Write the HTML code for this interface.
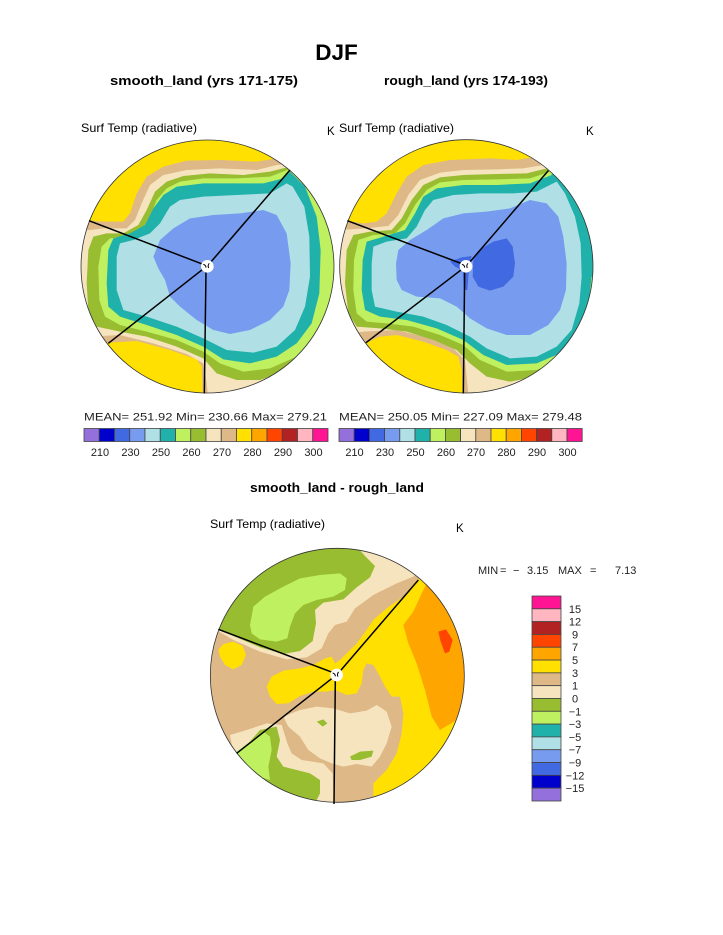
<!DOCTYPE html>
<html><head><meta charset="utf-8"><style>
html,body{margin:0;padding:0;background:#fff;}
svg{display:block;}
text{font-family:"Liberation Sans",sans-serif;}
</style></head><body>
<svg width="723" height="935" viewBox="0 0 723 935" xmlns="http://www.w3.org/2000/svg">
<defs>
<clipPath id="c1"><circle cx="412.5" cy="349.5" r="379.5"/></clipPath>
<clipPath id="c2"><circle cx="409" cy="349" r="380"/></clipPath>
<clipPath id="c3"><circle cx="412" cy="406" r="381"/></clipPath>
</defs>
<rect width="723" height="935" fill="#fff"/>

<!-- Titles -->
<text x="336.5" y="60" font-size="22.5" font-weight="bold" text-anchor="middle" fill="#000">DJF</text>
<text x="110" y="85" font-size="13" font-weight="bold" textLength="188" lengthAdjust="spacingAndGlyphs" fill="#000">smooth_land (yrs 171-175)</text>
<text x="384" y="85" font-size="13" font-weight="bold" textLength="164" lengthAdjust="spacingAndGlyphs" fill="#000">rough_land (yrs 174-193)</text>
<text x="81" y="132" font-size="12" textLength="116" lengthAdjust="spacingAndGlyphs" fill="#000">Surf Temp (radiative)</text>
<text x="327" y="135" font-size="11.5" fill="#000">K</text>
<text x="339" y="132" font-size="12" textLength="115" lengthAdjust="spacingAndGlyphs" fill="#000">Surf Temp (radiative)</text>
<text x="586" y="135" font-size="11.5" fill="#000">K</text>

<!-- LEFT CIRCLE -->
<g transform="translate(70,150) scale(0.333333)">
<g clip-path="url(#c1)">
<circle cx="412.5" cy="349.5" r="379.5" fill="#FFE000"/>
<polygon fill="#DEB887" points="630,-60 620,25 560,35 450,30 350,32 280,50 230,80 200,130 180,190 160,215 100,215 57,212 -20,212 -20,578 115,578 200,573 300,600 380,628 395,650 400,800 900,800 900,-60"/>
<polygon fill="#F5E4BE" points="660,-60 660,40 620,45 560,60 450,55 350,60 280,75 240,105 215,160 195,210 170,235 100,235 60,240 -20,240 -20,560 60,560 150,555 250,580 350,612 400,640 410,700 420,800 900,800 900,-60"/>
<polygon fill="#98BD30" points="680,-60 660,50 600,65 520,75 420,70 340,78 290,95 255,125 230,180 205,225 160,250 110,250 70,260 55,300 50,400 55,480 80,530 150,545 230,560 320,590 400,625 440,670 500,690 570,690 640,665 700,625 760,580 900,500 900,-60"/>
<polygon fill="#BFF060" points="700,-60 665,55 600,80 500,85 400,85 330,95 290,115 260,150 240,200 215,240 170,260 120,265 95,290 85,350 88,450 105,500 150,525 230,545 320,570 400,605 450,640 520,665 600,655 680,620 740,560 775,480 800,420 900,300 900,-60"/>
<polygon fill="#20B2AA" points="660,65 640,85 580,100 500,100 400,100 320,110 280,135 250,175 225,225 180,250 130,265 115,300 110,400 115,470 150,500 230,525 320,555 400,590 460,628 540,640 620,620 680,580 725,520 748,430 752,300 740,200 705,110"/>
<polygon fill="#B0E0E6" points="650,100 600,130 500,135 400,140 330,150 300,170 270,220 240,250 190,270 150,280 140,320 140,420 160,480 230,500 320,530 400,565 470,600 550,608 620,590 675,540 705,470 720,380 718,260 703,170 668,110"/>
<polygon fill="#779CEF" points="250,320 270,270 310,235 360,205 430,195 510,190 580,180 620,195 650,250 662,340 658,420 640,470 600,510 540,540 480,552 430,540 380,510 330,470 300,440 285,390 265,355"/>
</g>
<circle cx="412.5" cy="349.5" r="379.5" fill="none" stroke="#333" stroke-width="2.4"/>
<g stroke="#000" stroke-width="4.5" fill="none">
<line x1="57" y1="212" x2="402" y2="344"/>
<line x1="660" y1="60" x2="420" y2="339"/>
<line x1="115" y1="580" x2="402" y2="355"/>
<line x1="403" y1="730" x2="408" y2="362"/>
</g>
<circle cx="412" cy="349" r="19" fill="#fff"/>
<path d="M400,343 q8,2 8,10 M418,340 q-6,6 -2,14" stroke="#000" stroke-width="3" fill="none"/>
</g>

<!-- RIGHT CIRCLE -->
<g transform="translate(330,150) scale(0.333333)">
<g clip-path="url(#c2)">
<circle cx="409" cy="349" r="380" fill="#FFE000"/>
<polygon fill="#DEB887" points="630,-60 620,20 560,30 480,25 360,30 280,45 230,80 200,130 170,190 140,215 100,220 55,213 -20,212 -20,578 110,578 150,560 200,555 280,575 350,600 385,620 395,660 400,800 900,800 900,-60"/>
<polygon fill="#F5E4BE" points="650,-60 640,45 580,55 500,58 400,60 330,68 270,90 235,135 205,195 175,228 110,235 60,238 -20,240 -20,560 100,545 200,540 290,562 370,595 405,630 412,700 420,800 900,800 900,-60"/>
<polygon fill="#98BD30" points="660,-60 650,55 590,70 500,72 400,75 330,82 280,105 245,150 215,205 185,240 120,245 70,255 50,300 45,400 55,490 80,530 150,535 230,545 310,570 380,600 420,640 470,680 540,695 620,680 700,640 760,600 900,600 900,-60"/>
<polygon fill="#BFF060" points="670,-60 660,65 600,85 500,88 400,90 330,97 290,120 255,165 225,220 195,250 130,255 85,270 72,330 70,420 80,490 110,515 170,520 250,530 330,555 400,585 450,630 530,665 620,660 700,625 760,570 790,500 900,450 900,-60"/>
<polygon fill="#20B2AA" points="680,-60 665,75 600,100 500,105 400,105 320,115 280,140 255,190 225,240 160,260 110,275 98,330 95,420 105,480 150,500 230,510 320,535 400,570 460,615 530,645 620,640 690,610 745,550 775,470 785,380 900,380 900,-60"/>
<polygon fill="#B0E0E6" points="680,95 620,125 550,130 450,130 370,135 310,150 285,180 260,230 230,265 170,275 130,290 125,340 125,420 135,470 200,485 280,500 350,525 420,560 470,595 540,625 620,620 680,590 725,540 748,460 755,380 752,280 735,200 705,130"/>
<polygon fill="#779CEF" points="198,340 205,300 240,270 290,240 340,205 400,190 470,185 540,175 600,150 650,160 685,200 700,260 710,340 708,420 690,480 655,525 600,555 530,555 470,535 420,505 380,470 330,445 260,440 215,420 200,390"/>
<polygon fill="#4169E1" points="430,330 450,298 490,275 530,265 548,290 555,340 550,380 520,410 480,422 445,410 428,380"/>
<polygon fill="#4169E1" points="360,335 395,322 425,318 418,345 412,420 402,420 398,362 375,350"/>
</g>
<circle cx="409" cy="349" r="380" fill="none" stroke="#333" stroke-width="2.4"/>
<g stroke="#000" stroke-width="4.5" fill="none">
<line x1="52" y1="212" x2="398" y2="342"/>
<line x1="655" y1="62" x2="418" y2="338"/>
<line x1="108" y1="578" x2="398" y2="356"/>
<line x1="400" y1="730" x2="404" y2="362"/>
</g>
<circle cx="408" cy="349" r="19" fill="#fff"/>
<path d="M396,343 q8,2 8,10 M414,340 q-6,6 -2,14" stroke="#000" stroke-width="3" fill="none"/>
</g>

<!-- Top colorbars -->
<text x="84" y="420.5" font-size="11" fill="#222" textLength="243" lengthAdjust="spacingAndGlyphs">MEAN= 251.92  Min= 230.66  Max= 279.21</text>
<text x="339" y="420.5" font-size="11" fill="#222" textLength="243" lengthAdjust="spacingAndGlyphs">MEAN= 250.05  Min= 227.09  Max= 279.48</text>
<g stroke="#444" stroke-width="0.8">
<rect x="84" y="428.5" width="15.25" height="13" fill="#9370DB"/>
<rect x="99.25" y="428.5" width="15.25" height="13" fill="#0000CD"/>
<rect x="114.5" y="428.5" width="15.25" height="13" fill="#4169E1"/>
<rect x="129.75" y="428.5" width="15.25" height="13" fill="#779CEF"/>
<rect x="145" y="428.5" width="15.25" height="13" fill="#B0E0E6"/>
<rect x="160.25" y="428.5" width="15.25" height="13" fill="#20B2AA"/>
<rect x="175.5" y="428.5" width="15.25" height="13" fill="#BFF060"/>
<rect x="190.75" y="428.5" width="15.25" height="13" fill="#98BD30"/>
<rect x="206" y="428.5" width="15.25" height="13" fill="#F5E4BE"/>
<rect x="221.25" y="428.5" width="15.25" height="13" fill="#DEB887"/>
<rect x="236.5" y="428.5" width="15.25" height="13" fill="#FFE000"/>
<rect x="251.75" y="428.5" width="15.25" height="13" fill="#FFA500"/>
<rect x="267" y="428.5" width="15.25" height="13" fill="#FF4500"/>
<rect x="282.25" y="428.5" width="15.25" height="13" fill="#B22222"/>
<rect x="297.5" y="428.5" width="15.25" height="13" fill="#FFB6C1"/>
<rect x="312.75" y="428.5" width="15.25" height="13" fill="#FF1493"/>

<rect x="339" y="428.5" width="15.2" height="13" fill="#9370DB"/>
<rect x="354.2" y="428.5" width="15.2" height="13" fill="#0000CD"/>
<rect x="369.4" y="428.5" width="15.2" height="13" fill="#4169E1"/>
<rect x="384.6" y="428.5" width="15.2" height="13" fill="#779CEF"/>
<rect x="399.8" y="428.5" width="15.2" height="13" fill="#B0E0E6"/>
<rect x="415" y="428.5" width="15.2" height="13" fill="#20B2AA"/>
<rect x="430.2" y="428.5" width="15.2" height="13" fill="#BFF060"/>
<rect x="445.4" y="428.5" width="15.2" height="13" fill="#98BD30"/>
<rect x="460.6" y="428.5" width="15.2" height="13" fill="#F5E4BE"/>
<rect x="475.8" y="428.5" width="15.2" height="13" fill="#DEB887"/>
<rect x="491" y="428.5" width="15.2" height="13" fill="#FFE000"/>
<rect x="506.2" y="428.5" width="15.2" height="13" fill="#FFA500"/>
<rect x="521.4" y="428.5" width="15.2" height="13" fill="#FF4500"/>
<rect x="536.6" y="428.5" width="15.2" height="13" fill="#B22222"/>
<rect x="551.8" y="428.5" width="15.2" height="13" fill="#FFB6C1"/>
<rect x="567" y="428.5" width="15.2" height="13" fill="#FF1493"/>
</g>
<g font-size="11" fill="#222" text-anchor="middle">
<text x="100" y="456">210</text>
<text x="130.5" y="456">230</text>
<text x="161" y="456">250</text>
<text x="191.5" y="456">260</text>
<text x="222" y="456">270</text>
<text x="252.5" y="456">280</text>
<text x="283" y="456">290</text>
<text x="313.5" y="456">300</text>
<text x="354.5" y="456">210</text>
<text x="385" y="456">230</text>
<text x="415.5" y="456">250</text>
<text x="446" y="456">260</text>
<text x="476" y="456">270</text>
<text x="506.5" y="456">280</text>
<text x="537" y="456">290</text>
<text x="567.5" y="456">300</text>
</g>

<!-- Bottom panel titles -->
<text x="250" y="492" font-size="13" font-weight="bold" textLength="174" lengthAdjust="spacingAndGlyphs" fill="#000">smooth_land - rough_land</text>
<text x="210" y="528" font-size="12" textLength="115" lengthAdjust="spacingAndGlyphs" fill="#000">Surf Temp (radiative)</text>
<text x="456" y="532" font-size="11.5" fill="#000">K</text>

<!-- BOTTOM CIRCLE -->
<g transform="translate(200,540) scale(0.333333)">
<g clip-path="url(#c3)">
<circle cx="412" cy="406" r="381" fill="#DEB887"/>
<polygon fill="#F5E4BE" points="-20,250 40,265 100,300 180,335 260,358 320,352 365,325 385,280 405,255 440,245 465,205 520,165 590,130 640,110 700,60 700,-20 -20,-20"/>
<polygon fill="#98BD30" points="-20,255 55,268 110,292 180,322 250,342 300,333 338,303 348,250 345,210 370,188 430,178 470,142 510,112 525,78 495,48 470,20 400,-20 -20,-20"/>
<polygon fill="#BFF060" points="150,255 160,200 195,170 250,140 300,115 360,105 420,100 440,115 435,150 400,170 350,180 310,195 285,220 270,260 262,295 230,305 180,298 155,280"/>
<polygon fill="#FFE000" points="55,330 70,312 100,305 128,318 138,345 125,375 100,388 75,375 60,350"/>
<polygon fill="#FFE000" points="200,440 215,410 250,392 300,385 340,375 375,355 395,350 405,370 420,360 440,340 470,310 500,270 520,240 560,205 610,170 650,120 700,100 820,300 820,820 520,820 520,730 560,690 590,640 605,580 610,520 600,470 575,470 555,440 540,410 520,375 500,370 490,390 485,430 470,460 440,465 405,450 380,455 340,455 300,468 265,490 230,492 210,470"/>
<polygon fill="#FFA500" points="610,255 640,215 665,160 680,130 720,150 820,300 820,500 770,540 720,570 695,530 675,450 650,370 625,310"/>
<polygon fill="#FF4500" points="715,275 738,268 758,300 748,335 735,340 722,305"/>
<polygon fill="#F5E4BE" points="250,530 300,510 350,500 400,505 450,520 500,512 530,495 560,515 575,560 560,610 540,650 515,680 470,672 430,680 395,670 360,655 325,630 300,590 265,560"/>
<polygon fill="#F5E4BE" points="90,585 140,570 200,550 245,555 262,610 275,640 305,660 370,670 398,700 402,800 330,800 250,770 150,720 100,640"/>
<polygon fill="#98BD30" points="180,570 230,560 240,600 230,650 250,680 330,700 360,720 360,760 345,790 240,760 160,710 110,650"/>
<polygon fill="#BFF060" points="110,635 190,575 210,590 215,630 205,680 210,720 160,705 130,670"/>
<polygon fill="#98BD30" points="350,545 370,538 382,550 368,560"/>
<polygon fill="#98BD30" points="450,650 480,635 520,632 515,650 480,660 455,660"/>
</g>
<circle cx="412" cy="406" r="381" fill="none" stroke="#333" stroke-width="2.4"/>
<g stroke="#000" stroke-width="4.5" fill="none">
<line x1="55" y1="268" x2="400" y2="398"/>
<line x1="655" y1="120" x2="418" y2="396"/>
<line x1="110" y1="640" x2="400" y2="412"/>
<line x1="402" y1="792" x2="406" y2="418"/>
</g>
<circle cx="410" cy="405" r="19" fill="#fff"/>
<path d="M398,399 q8,2 8,10 M416,396 q-6,6 -2,14" stroke="#000" stroke-width="3" fill="none"/>
</g>

<!-- Bottom legend -->
<g font-size="11" fill="#222">
<text x="478" y="574">MIN</text>
<text x="500" y="574">=</text>
<text x="513" y="574">−</text>
<text x="527" y="574">3.15</text>
<text x="558" y="574">MAX</text>
<text x="590" y="574">=</text>
<text x="615" y="574">7.13</text>
</g>
<g stroke="#444" stroke-width="0.8">
<rect x="532" y="596" width="29" height="12.81" fill="#FF1493"/>
<rect x="532" y="608.81" width="29" height="12.81" fill="#FFB6C1"/>
<rect x="532" y="621.62" width="29" height="12.81" fill="#B22222"/>
<rect x="532" y="634.43" width="29" height="12.81" fill="#FF4500"/>
<rect x="532" y="647.24" width="29" height="12.81" fill="#FFA500"/>
<rect x="532" y="660.05" width="29" height="12.81" fill="#FFE000"/>
<rect x="532" y="672.86" width="29" height="12.81" fill="#DEB887"/>
<rect x="532" y="685.67" width="29" height="12.81" fill="#F5E4BE"/>
<rect x="532" y="698.48" width="29" height="12.81" fill="#98BD30"/>
<rect x="532" y="711.29" width="29" height="12.81" fill="#BFF060"/>
<rect x="532" y="724.1" width="29" height="12.81" fill="#20B2AA"/>
<rect x="532" y="736.91" width="29" height="12.81" fill="#B0E0E6"/>
<rect x="532" y="749.72" width="29" height="12.81" fill="#779CEF"/>
<rect x="532" y="762.53" width="29" height="12.81" fill="#4169E1"/>
<rect x="532" y="775.34" width="29" height="12.81" fill="#0000CD"/>
<rect x="532" y="788.15" width="29" height="12.85" fill="#9370DB"/>
</g>
<g font-size="11" fill="#222" text-anchor="middle">
<text x="575" y="612.8">15</text>
<text x="575" y="625.6">12</text>
<text x="575" y="638.4">9</text>
<text x="575" y="651.2">7</text>
<text x="575" y="664">5</text>
<text x="575" y="676.9">3</text>
<text x="575" y="689.7">1</text>
<text x="575" y="702.5">0</text>
<text x="575" y="715.3">−1</text>
<text x="575" y="728.1">−3</text>
<text x="575" y="740.9">−5</text>
<text x="575" y="753.7">−7</text>
<text x="575" y="766.5">−9</text>
<text x="575" y="779.3">−12</text>
<text x="575" y="792.1">−15</text>
</g>
</svg>
</body></html>
